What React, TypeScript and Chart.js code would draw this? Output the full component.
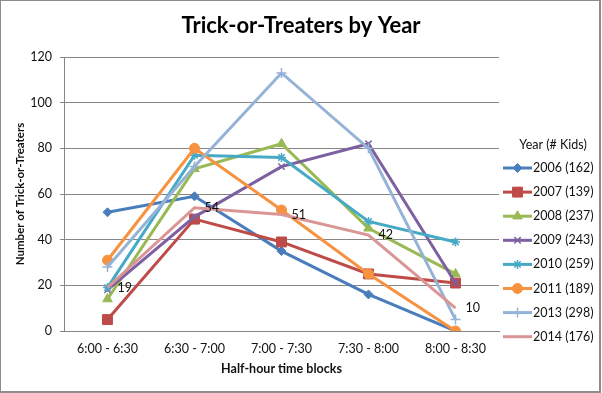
import React, { useEffect, useRef } from 'react';
import { Chart, registerables } from 'chart.js';
import { drawPoint } from 'chart.js/helpers';

Chart.register(...registerables);

const categories = ['6:00 - 6:30', '6:30 - 7:00', '7:00 - 7:30', '7:30 - 8:00', '8:00 - 8:30'];
const seriesLabels = ['2006 (162)', '2007 (139)', '2008 (237)', '2009 (243)', '2010 (259)', '2011 (189)', '2013 (298)', '2014 (176)'];
const kids2006 = [52, 59, 35, 16, 0];
const kids2007 = [5, 49, 39, 25, 21];
const kids2008 = [14, 71, 82, 45, 25];
const kids2009 = [18, 50, 72, 82, 21];
const kids2010 = [19, 77, 76, 48, 39];
const kids2011 = [31, 80, 53, 25, 0];
const kids2013 = [28, 72, 113, 80, 5];
const kids2014 = [19, 54, 51, 42, 10];
const yTicks = [0, 20, 40, 60, 80, 100, 120];

const seriesValues = [kids2006, kids2007, kids2008, kids2009, kids2010, kids2011, kids2013, kids2014];
const seriesColors = ['#4A7EBB', '#BE4B48', '#98B954', '#7D60A0', '#46AAC5', '#F69240', '#95B3D7', '#D99694'];
const seriesMarkers = ['rectRot', 'rect', 'triangle', 'crossRot', 'star', 'circle', 'cross', 'circle'];
const seriesMarkerSizes = [4.5, 7, 5.5, 4.5, 4.5, 5, 5, 0];
const labelledSeries = 7;
const chartTitle = 'Trick-or-Treaters by Year';

const FONT = 'Lato, "Open Sans", sans-serif';

const legendPlugin = {
  id: 'customLegend',
  afterDraw(chart: any) {
    const ctx = chart.ctx;
    const ca = chart.chartArea;
    ctx.save();
    // outer frame
    ctx.fillStyle = '#8c8c8c';
    ctx.fillRect(0, 0, 601, 1);
    ctx.fillRect(0, 0, 1, 393);
    ctx.fillRect(599, 0, 2, 393);
    ctx.fillRect(0, 391, 601, 2);

    // title
    ctx.fillStyle = '#000';
    ctx.font = `bold 22px ${FONT}`;
    ctx.textAlign = 'center';
    ctx.textBaseline = 'middle';
    ctx.fillText(chartTitle, chart.width / 2, 26);

    const x0 = ca.right + 4;
    ctx.font = `12.5px ${FONT}`;
    ctx.fillStyle = '#111';
    ctx.textBaseline = 'middle';
    ctx.textAlign = 'center';
    ctx.fillText('Year (# Kids)', x0 + 50, 145);
    chart.data.datasets.forEach((ds: any, i: number) => {
      const y = 168 + i * 24.1;
      ctx.strokeStyle = ds.borderColor;
      ctx.fillStyle = ds.borderColor;
      ctx.lineWidth = 3;
      ctx.beginPath();
      ctx.moveTo(x0, y);
      ctx.lineTo(x0 + 29, y);
      ctx.stroke();
      if (ds.pointRadius > 0) {
        ctx.lineWidth = ds.pointBorderWidth;
        drawPoint(ctx, { pointStyle: ds.pointStyle, rotation: 0, radius: ds.pointRadius, borderWidth: ds.pointBorderWidth }, x0 + 14.5, y);
      }
      ctx.fillStyle = '#111';
      ctx.textAlign = 'left';
      ctx.fillText(ds.label, x0 + 30, y);
    });
    ctx.restore();
  },
  afterDatasetsDraw(chart: any) {
    const ctx = chart.ctx;
    const meta = chart.getDatasetMeta(labelledSeries);
    const ds = chart.data.datasets[labelledSeries];
    ctx.save();
    ctx.font = `12.5px ${FONT}`;
    ctx.fillStyle = '#111';
    ctx.textBaseline = 'middle';
    ctx.textAlign = 'left';
    meta.data.forEach((pt: any, j: number) => {
      ctx.fillText(String(ds.data[j]), pt.x + 10, pt.y);
    });
    ctx.restore();
  },
};

export default function App() {
  const ref = useRef<HTMLCanvasElement | null>(null);
  useEffect(() => {
    if (!ref.current) return;
    const datasets = seriesValues.map((vals, i) => ({
      label: seriesLabels[i],
      data: vals,
      borderColor: seriesColors[i],
      backgroundColor: seriesColors[i],
      pointBackgroundColor: seriesColors[i],
      pointBorderColor: seriesColors[i],
      pointStyle: seriesMarkers[i],
      pointRadius: seriesMarkerSizes[i],
      pointBorderWidth: ['crossRot', 'star', 'cross'].includes(seriesMarkers[i]) ? 1.5 : 1,
      borderWidth: 3,
      tension: 0,
      order: seriesValues.length - i,
    }));
    const chart = new Chart(ref.current, {
      type: 'line',
      data: { labels: categories, datasets },
      plugins: [legendPlugin],
      options: {
        responsive: false,
        animation: false,
        devicePixelRatio: 1,
        layout: { padding: { top: 57, right: 103, bottom: 12, left: 0 } },
        plugins: {
          legend: { display: false },
          tooltip: { enabled: false },
          title: { display: false },
        },
        scales: {
          x: {
            offset: true,
            grid: { display: false, drawTicks: false },
            border: { display: true, color: '#868686', width: 1 },
            ticks: { padding: 10, color: '#111', font: { family: FONT, size: 12.5 } },
            title: {
              display: true,
              text: 'Half-hour time blocks',
              color: '#111',
              font: { family: FONT, size: 12.5, weight: 'bold' },
              padding: { top: 0, bottom: 5 },
            },
            afterFit: (s: any) => { s.height = 50; },
          },
          y: {
            min: 0,
            max: 120,
            afterBuildTicks: (s: any) => { s.ticks = yTicks.map((v) => ({ value: v })); },
            grid: { color: '#868686', lineWidth: 1, drawTicks: true, tickLength: 4 },
            border: { display: true, color: '#868686', width: 1 },
            ticks: { padding: 8, color: '#111', font: { family: FONT, size: 12.5 } },
            title: {
              display: true,
              text: 'Number of Trick-or-Treaters',
              color: '#111',
              font: { family: FONT, size: 11.5, weight: 'bold' },
              padding: { top: 13, bottom: 0 },
            },
            afterFit: (s: any) => { s.width = 64; },
          },
        },
      },
    } as any);
    return () => chart.destroy();
  }, []);
  return (
    <div style={{ position: 'absolute', left: 0, top: 0, width: 602, height: 393, background: '#fff' }}>
      <canvas ref={ref} width={602} height={393} style={{ display: 'block', width: 602, height: 393 }} />
    </div>
  );
}
